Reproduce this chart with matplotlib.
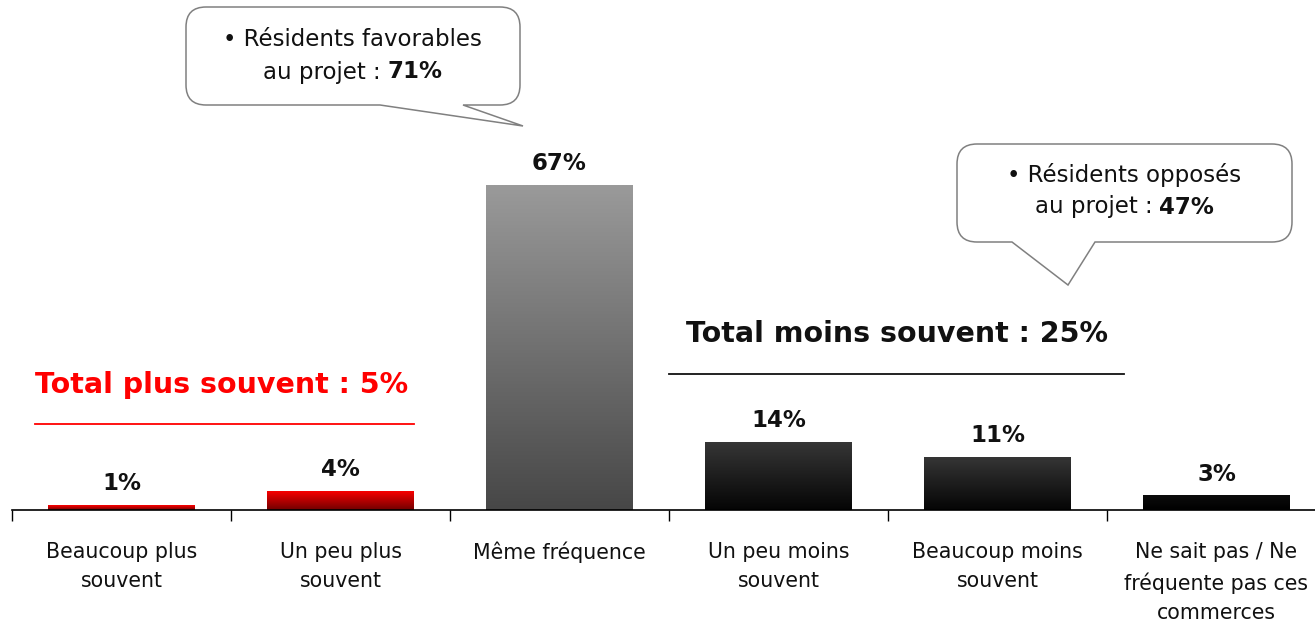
import numpy as np
import matplotlib
matplotlib.use("Agg")
import matplotlib.pyplot as plt
from matplotlib.path import Path
from matplotlib.patches import PathPatch
from matplotlib.colors import LinearSegmentedColormap

# Data
categories = ["Beaucoup plus\nsouvent", "Un peu plus\nsouvent", "Même fréquence",
              "Un peu moins\nsouvent", "Beaucoup moins\nsouvent",
              "Ne sait pas / Ne\nfréquente pas ces\ncommerces"]
values = [1, 4, 67, 14, 11, 3]
value_labels = ["1%", "4%", "67%", "14%", "11%", "3%"]
# gradient (top colour, bottom colour) per bar
bar_grads = [("#ff0000", "#700000"), ("#ff0000", "#700000"), ("#9a9a9a", "#474747"),
             ("#363636", "#050505"), ("#363636", "#050505"), ("#0c0c0c", "#000000")]
total_plus = "Total plus souvent : 5%"
total_moins = "Total moins souvent : 25%"
callout_fav = ("Résidents favorables", "au projet : ", "71%")
callout_opp = ("Résidents opposés", "au projet : ", "47%")

W, H = 1315, 623
fig = plt.figure(figsize=(W / 100, H / 100), dpi=100)

# bar axes, baseline at y=510 px, 6 slots of 219 px starting at x=12
ax = fig.add_axes([12 / W, 113 / H, 1314 / W, 485 / H])
x = np.arange(len(values))
bars = ax.bar(x, values, width=0.67, color="none", edgecolor="none")
for b, (top, bot) in zip(bars, bar_grads):
    cmap = LinearSegmentedColormap.from_list("g", [bot, top])
    grad = np.linspace(0, 1, 256).reshape(-1, 1)
    bx, by = b.get_x(), b.get_y()
    im = ax.imshow(grad, cmap=cmap, aspect="auto", origin="lower",
                   extent=[bx, bx + b.get_width(), by, by + b.get_height()], zorder=2)
    im.set_clip_path(b)
ax.set_xlim(-0.5, 5.5)
ax.set_ylim(0, 100)

for xi, v, lab in zip(x, values, value_labels):
    ax.annotate(lab, (xi, v), xytext=(0, 7), textcoords="offset points",
                ha="center", va="bottom", fontsize=16.5, fontweight="bold", color="#111111")

for s in ["top", "right", "left"]:
    ax.spines[s].set_visible(False)
ax.spines["bottom"].set_linewidth(1.2)
ax.set_yticks([])
ax.set_xticks(x)
ax.set_xticklabels(categories, fontsize=14.8, linespacing=1.58, color="#111111")
ax.tick_params(axis="x", which="major", length=0, pad=23)
ax.set_xticks(np.arange(-0.5, 6, 1), minor=True)
ax.tick_params(axis="x", which="minor", length=8, width=1, direction="out")

# overlay in pixel coordinates for annotations
ov = fig.add_axes([0, 0, 1, 1])
ov.set_xlim(0, W)
ov.set_ylim(H, 0)
ov.axis("off")

ov.text(222, 385, total_plus, ha="center", va="center", fontsize=20.5,
        fontweight="bold", color="#ff0000")
ov.plot([35, 414], [424, 424], color="#ff0000", lw=1.3)
ov.text(897, 334, total_moins, ha="center", va="center", fontsize=20.5,
        fontweight="bold", color="#111111")
ov.plot([669, 1124], [374, 374], color="#111111", lw=1.3)


def callout(x0, y0, x1, y1, tx0, tx1, px, py, r=20):
    verts = [(x0 + r, y0), (x1 - r, y0), (x1, y0), (x1, y0 + r), (x1, y1 - r),
             (x1, y1), (x1 - r, y1), (tx1, y1), (px, py), (tx0, y1),
             (x0 + r, y1), (x0, y1), (x0, y1 - r), (x0, y0 + r), (x0, y0),
             (x0 + r, y0), (x0 + r, y0)]
    codes = [Path.MOVETO, Path.LINETO, Path.CURVE3, Path.CURVE3, Path.LINETO,
             Path.CURVE3, Path.CURVE3, Path.LINETO, Path.LINETO, Path.LINETO,
             Path.LINETO, Path.CURVE3, Path.CURVE3, Path.LINETO, Path.CURVE3,
             Path.CURVE3, Path.CLOSEPOLY]
    ov.add_patch(PathPatch(Path(verts, codes), facecolor="white",
                           edgecolor="#808080", lw=1.1, zorder=3))


def callout_text(cx, y_top, lines):
    l1, l2, pct = lines
    ov.text(cx, y_top, "\u2022 " + l1, ha="center", va="center", fontsize=16.5,
            color="#111111", zorder=4)
    t = ov.text(cx - 27, y_top + 32, l2, ha="center", va="center", fontsize=16.5,
                color="#111111", zorder=4)
    ov.annotate(pct, xy=(1, 0), xycoords=t, ha="left", va="bottom", fontsize=16.5,
                fontweight="bold", color="#111111", zorder=4)


callout(186, 7, 520, 105, 380, 463, 523, 126)
callout_text(352, 40, callout_fav)
callout(957, 144, 1292, 242, 1012, 1095, 1068, 285)
callout_text(1124, 175, callout_opp)

fig.savefig("out.png", dpi=100)
